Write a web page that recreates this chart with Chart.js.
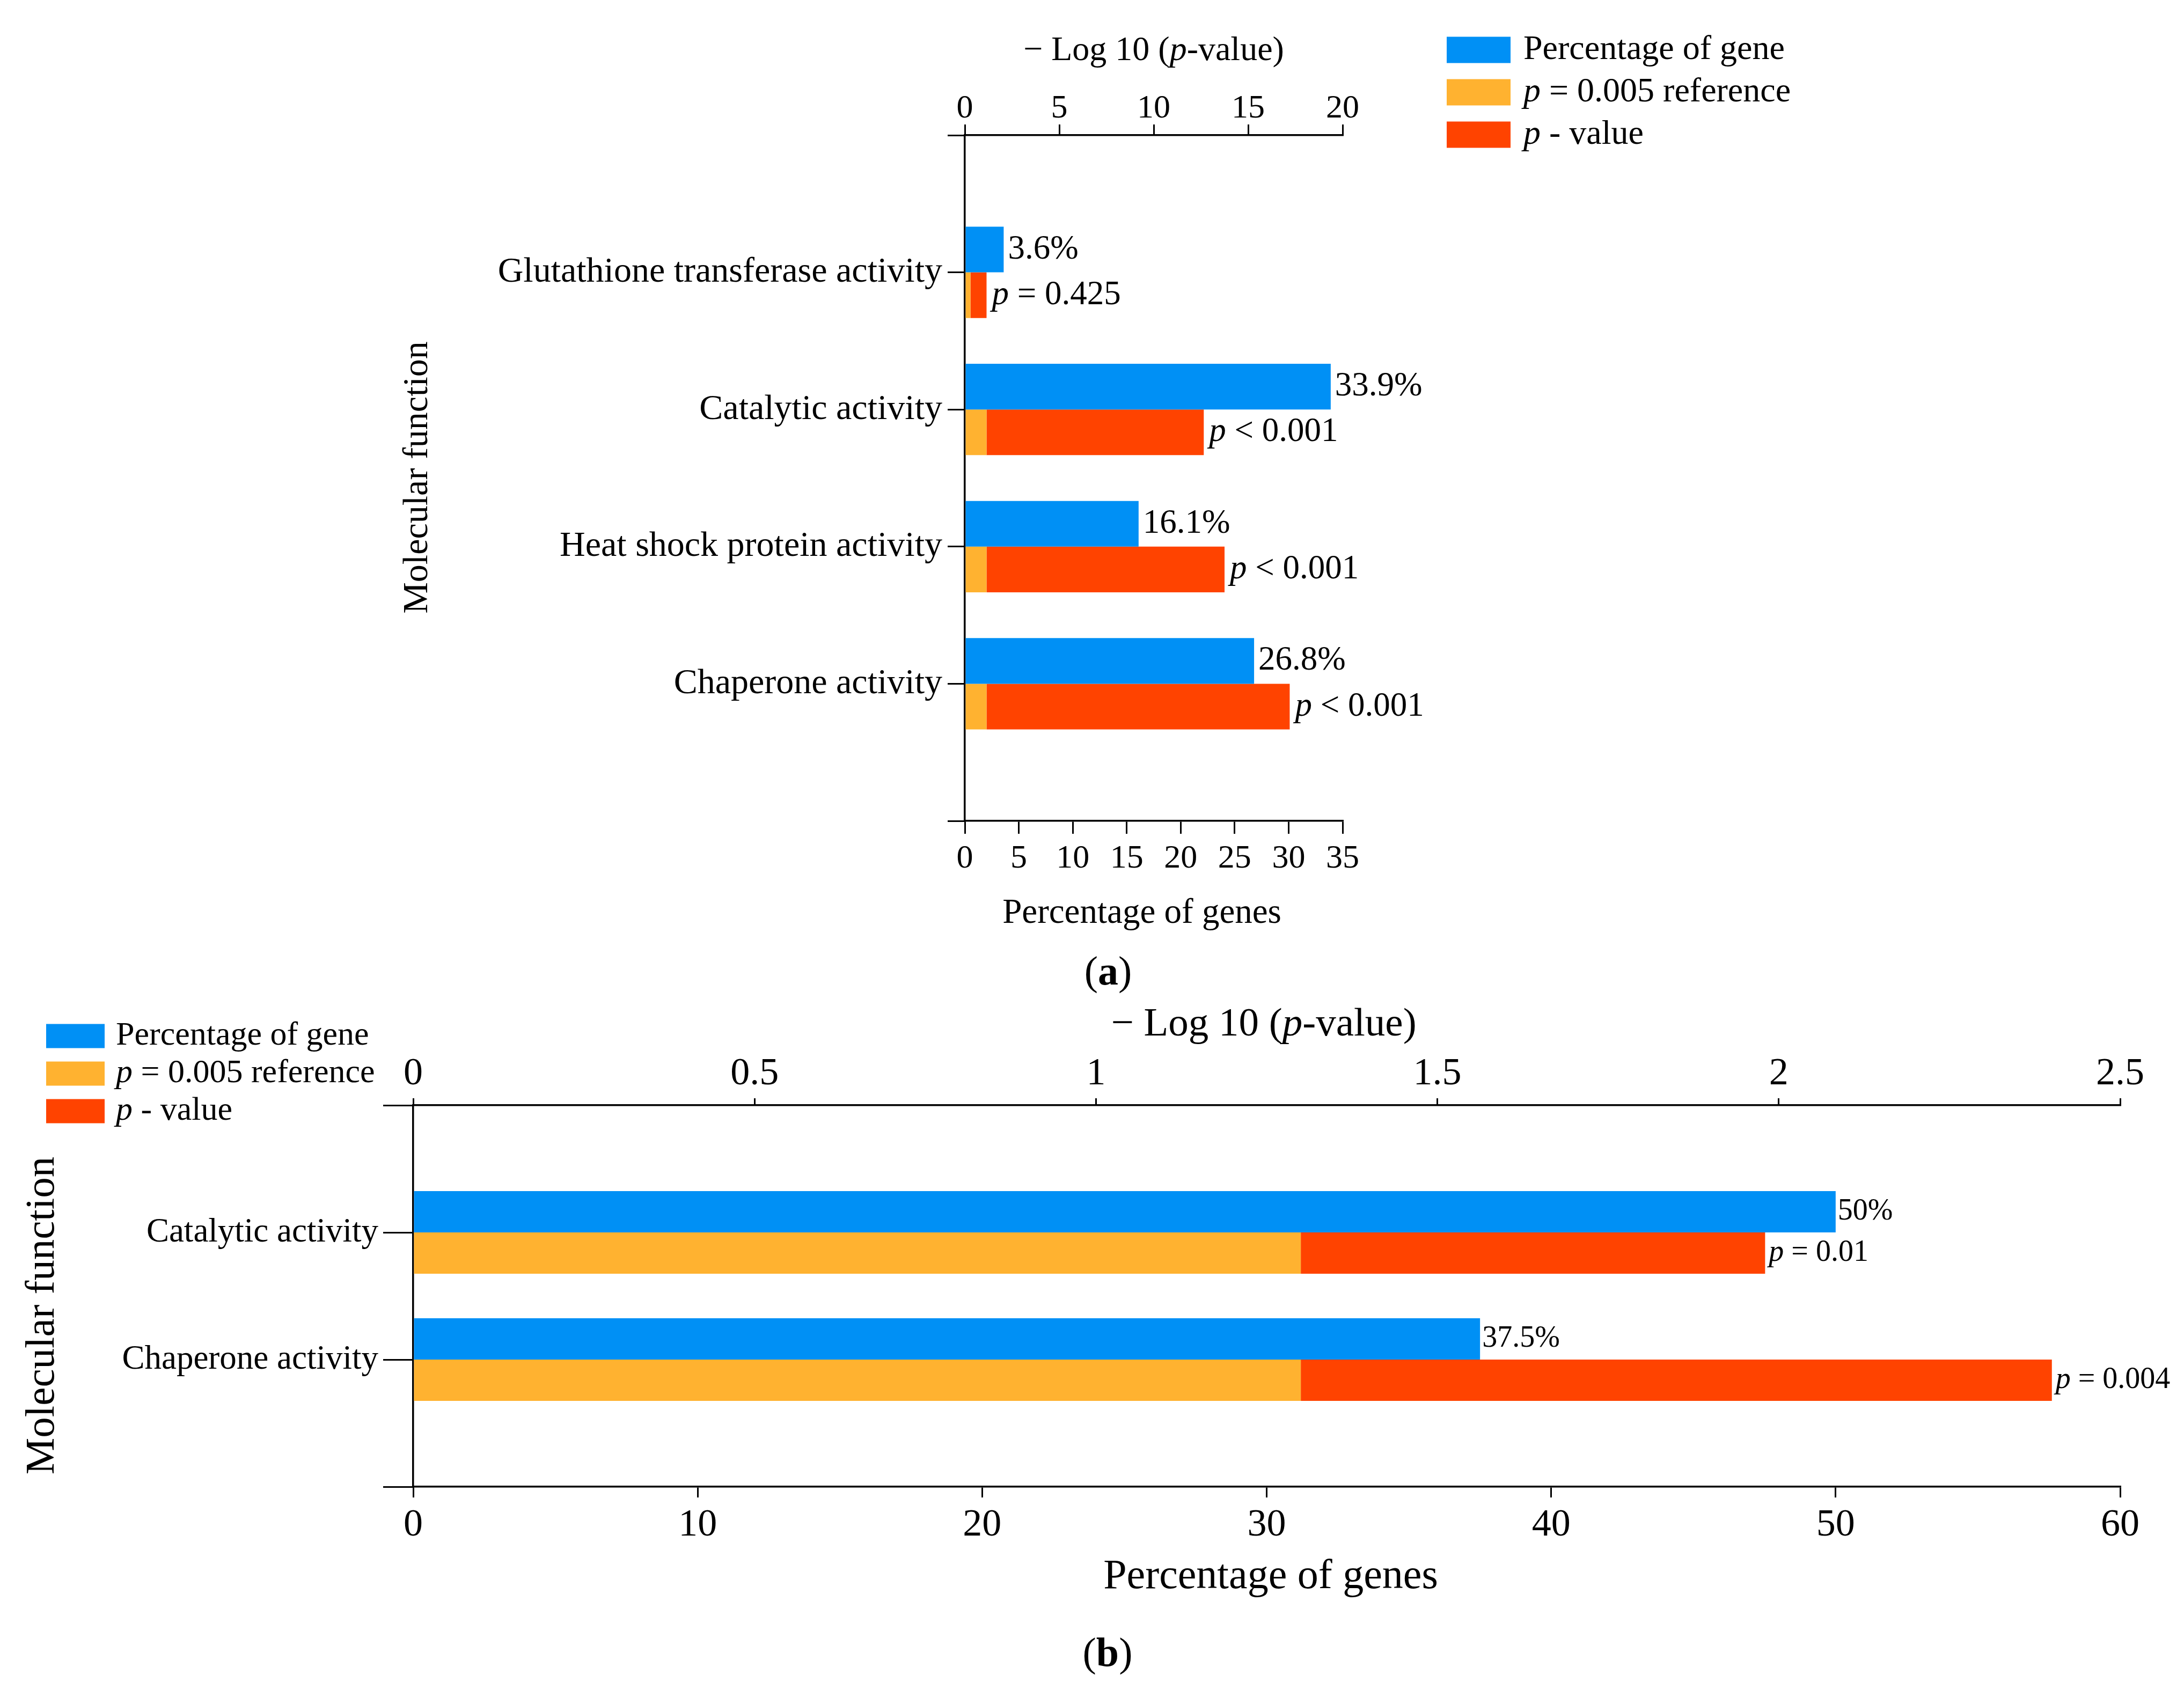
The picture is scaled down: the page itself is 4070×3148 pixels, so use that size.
<!DOCTYPE html>
<html>
<head>
<meta charset="utf-8">
<title>Molecular function</title>
<script src="https://cdn.jsdelivr.net/npm/chart.js@4.4.1/dist/chart.umd.min.js"></script>
<style>
  html, body { margin: 0; padding: 0; background: #fff; }
  #wrap { position: relative; width: 4070px; height: 3148px; background: #fff; }
  canvas { position: absolute; left: 0; top: 0; }
</style>
</head>
<body>
<div id="wrap">
  <canvas id="grafica_a" width="4070" height="3148"></canvas>
  <canvas id="grafica_b" width="4070" height="3148"></canvas>
</div>
<script>
const W = 4070, H = 3148;
const FONT = '"Liberation Serif", "Times New Roman", serif';
const AXIS_W = 1000, AXIS_H = 150;

const colGene = '#0090f5';
const colRef = '#ffb230';
const colP = '#ff4300';

// panel (a)
const categoriesA = ['Glutathione transferase activity', 'Catalytic activity', 'Heat shock protein activity', 'Chaperone activity'];
const percentA = [3.6, 33.9, 16.1, 26.8];
const refLogA = 1.15;
const logPA = [0.3, 12.65, 13.75, 17.2];
const percentTextA = ['3.6%', '33.9%', '16.1%', '26.8%'];
const pTextA = ['= 0.425', '< 0.001', '< 0.001', '< 0.001'];
const logTicksA = [0, 5, 10, 15, 20];
const percentTicksA = [0, 5, 10, 15, 20, 25, 30, 35];

// panel (b)
const categoriesB = ['Catalytic activity', 'Chaperone activity'];
const percentB = [50, 37.5];
const refLogB = 1.3;
const logPB = [1.98, 2.4];
const percentTextB = ['50%', '37.5%'];
const pTextB = ['= 0.01', '= 0.004'];
const logTicksB = [0, 0.5, 1, 1.5, 2, 2.5];
const percentTicksB = [0, 10, 20, 30, 40, 50, 60];

const legendNames = ['Percentage of gene', '*p* = 0.005 reference', '*p* - value'];

const fontOf = (size, italic, bold) => `${italic ? 'italic ' : ''}${bold ? 'bold ' : ''}${size}px ${FONT}`;

// "*x*" = italic, "#x#" = bold
const parse = s => s.split(/(\*[^*]+\*|#[^#]+#)/).filter(Boolean).map(p => {
    if (p[0] === '*') return { t: p.slice(1, -1), i: true };
    if (p[0] === '#') return { t: p.slice(1, -1), b: true };
    return { t: p };
});

function drawRich(ctx, s, x, y, size, align) {
    const parts = parse(s);
    ctx.textBaseline = 'middle';
    ctx.textAlign = 'left';
    const widths = parts.map(p => { ctx.font = fontOf(size, p.i, p.b); return ctx.measureText(p.t).width; });
    const total = widths.reduce((a, b) => a + b, 0);
    let cx = align === 'center' ? x - total / 2 : (align === 'right' ? x - total : x);
    parts.forEach((p, k) => {
        ctx.font = fontOf(size, p.i, p.b);
        ctx.fillText(p.t, cx, y);
        cx += widths[k];
    });
}

const extras = {
    id: 'extras',
    afterDraw(chart, args, o) {
        const ctx = chart.ctx;
        ctx.save();
        ctx.fillStyle = '#000';

        o.texts.forEach(t => {
            ctx.save();
            ctx.translate(t.x, t.y);
            if (t.rot) ctx.rotate(t.rot);
            drawRich(ctx, t.s, 0, 0, t.size, 'center');
            ctx.restore();
        });

        const lg = o.legend;
        chart.data.datasets.forEach((ds, k) => {
            const cy = lg.y + k * lg.step;
            ctx.fillStyle = ds.backgroundColor;
            ctx.fillRect(lg.x, cy - lg.h / 2, lg.w, lg.h);
            ctx.fillStyle = '#000';
            drawRich(ctx, ds.label, lg.tx, cy, lg.size, 'left');
        });

        o.ends.forEach(e => {
            const meta = chart.getDatasetMeta(e.dataset);
            meta.data.forEach((bar, k) => {
                const s = e.text[k - 1];
                if (!s || !isFinite(bar.x)) return;
                drawRich(ctx, e.prefix + s, bar.x + e.gap, bar.y, e.size, 'left');
            });
        });
        ctx.restore();
    }
};

function buildChart(id, c) {
    const pad = a => [null, ...a, null];
    const xAxis = (pos, ticks, tl, padding, size) => ({
        type: 'linear',
        position: pos,
        min: ticks[0],
        max: ticks[ticks.length - 1],
        stacked: false,
        afterBuildTicks: s => { s.ticks = ticks.map(v => ({ value: v })); },
        afterFit: s => { s.height = AXIS_H; },
        grid: { drawOnChartArea: false, tickLength: tl, color: '#000', lineWidth: 3 },
        border: { color: '#000', width: 3.5 },
        ticks: { padding: padding, color: '#000', font: { family: FONT, size: size }, autoSkip: false, maxRotation: 0, callback: v => String(v) }
    });

    const data = {
        labels: ['', ...c.categories, ''],
        datasets: [
            {
                label: legendNames[0],
                data: pad(c.percent),
                xAxisID: 'xPct', stack: 'a',
                backgroundColor: colGene, categoryPercentage: c.catPct, barPercentage: 1
            },
            {
                label: legendNames[1],
                data: pad(c.logP.map(v => [0, Math.min(v, c.refLog)])),
                xAxisID: 'xLog', stack: 'b',
                backgroundColor: colRef, categoryPercentage: c.catPct, barPercentage: 1
            },
            {
                label: legendNames[2],
                data: pad(c.logP.map(v => [Math.min(v, c.refLog), Math.max(v, c.refLog)])),
                xAxisID: 'xLog', stack: 'b',
                backgroundColor: colP, categoryPercentage: c.catPct, barPercentage: 1
            }
        ]
    };

    return new Chart(id, {
        type: 'bar',
        data: data,
        plugins: [extras],
        options: {
            indexAxis: 'y',
            responsive: false,
            animation: false,
            devicePixelRatio: 1,
            layout: {
                padding: { left: c.area.l - AXIS_W, right: W - c.area.r, top: c.area.t - AXIS_H, bottom: H - c.area.b - AXIS_H }
            },
            scales: {
                y: {
                    type: 'category',
                    offset: false,
                    afterFit: s => { s.width = AXIS_W; },
                    grid: { offset: false, drawOnChartArea: false, tickLength: c.yTick, color: '#000', lineWidth: 3 },
                    border: { color: '#000', width: 3.5 },
                    ticks: { padding: c.yPad, color: '#000', font: { family: FONT, size: c.ySize }, autoSkip: false }
                },
                xLog: xAxis('top', c.logTicks, c.topTick, c.topPad, c.xSize),
                xPct: xAxis('bottom', c.percentTicks, c.botTick, c.botPad, c.xSize)
            },
            plugins: {
                legend: { display: false },
                tooltip: { enabled: false },
                extras: {
                    texts: c.texts,
                    legend: c.legend,
                    ends: [
                        { dataset: 0, text: c.percentText, prefix: '', gap: c.gapPct, size: c.endSize },
                        { dataset: 2, text: c.pText, prefix: '*p* ', gap: c.gapP, size: c.endSize }
                    ]
                }
            }
        }
    });
}

buildChart('grafica_a', {
    categories: categoriesA, percent: percentA, refLog: refLogA, logP: logPA,
    percentText: percentTextA, pText: pTextA, logTicks: logTicksA, percentTicks: percentTicksA,
    area: { l: 1798, r: 2502, t: 252, b: 1530 },
    catPct: 0.666,
    yTick: 32, yPad: 10, ySize: 66,
    topTick: 20, topPad: -8, botTick: 24, botPad: 10, xSize: 62,
    gapPct: 8, gapP: 10, endSize: 63,
    legend: { x: 2696, w: 119, h: 49, y: 93, step: 79, tx: 2839, size: 64 },
    texts: [
        { s: '\u2212 Log 10 (*p*-value)', x: 2150, y: 95, size: 64 },
        { s: 'Percentage of genes', x: 2128, y: 1703, size: 65 },
        { s: 'Molecular function', x: 779, y: 890, size: 66, rot: -Math.PI / 2 },
        { s: '(#a#)', x: 2065, y: 1815, size: 76 }
    ]
});

buildChart('grafica_b', {
    categories: categoriesB, percent: percentB, refLog: refLogB, logP: logPB,
    percentText: percentTextB, pText: pTextB, logTicks: logTicksB, percentTicks: percentTicksB,
    area: { l: 770, r: 3951, t: 2060, b: 2771 },
    catPct: 0.65,
    yTick: 56, yPad: 9, ySize: 63,
    topTick: 13, topPad: 2, botTick: 20, botPad: 9, xSize: 72,
    gapPct: 4, gapP: 7, endSize: 56,
    legend: { x: 86, w: 109, h: 45, y: 1931, step: 70, tx: 216, size: 62 },
    texts: [
        { s: '\u2212 Log 10 (*p*-value)', x: 2355, y: 1910, size: 75 },
        { s: 'Percentage of genes', x: 2368, y: 2940, size: 78 },
        { s: 'Molecular function', x: 80, y: 2452, size: 77, rot: -Math.PI / 2 },
        { s: '(#b#)', x: 2064, y: 3085, size: 76 }
    ]
});
</script>
</body>
</html>
